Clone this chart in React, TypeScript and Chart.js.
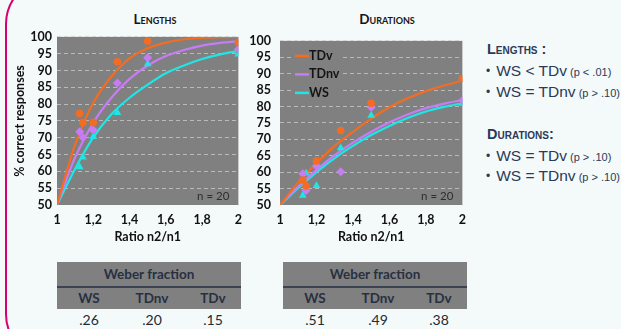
import React, { useEffect, useRef } from "react";
import { Chart, registerables } from "chart.js";
Chart.register(...registerables);

// ---------- data ----------
const ratios = [1.125, 1.143, 1.2, 1.333, 1.5, 2];
const fitX = [1, 1.1, 1.2, 1.3, 1.4, 1.5, 1.6, 1.7, 1.8, 1.9, 2];
const xTickLabels = ["1", "1,2", "1,4", "1,6", "1,8", "2"];
const seriesNames = ["TDv", "TDnv", "WS"];

const lengthsTDv = [77.2, 74.5, 74.5, 92.6, 98.7, 98.3];
const lengthsTDnv = [71.8, 70.1, 72.3, 86.3, 93.8, 96.3];
const lengthsWS = [61.3, 64.2, 70.3, 77.4, 91.9, 94.8];
const lengthsFitTDv = [50, 68, 80.4, 88.2, 93.6, 96.6, 98.3, 99.3, 99.7, 99.9, 100];
const lengthsFitTDnv = [50, 64.2, 74.5, 81.9, 87.5, 91.5, 94.3, 96.1, 97.4, 98.2, 98.7];
const lengthsFitWS = [50, 60.8, 70.1, 77, 81.9, 85.8, 89.2, 91.5, 93.4, 94.8, 95.8];

const durationsTDv = [57.6, 55.8, 63.4, 72.7, 81, 88.6];
const durationsTDnv = [59.5, 54.4, 61.9, 60.1, 79.8, 81.8];
const durationsWS = [52.9, 59.7, 55.9, 67.4, 77.3, 80.9];
const durationsFitTDv = [50, 56.9, 62.7, 68, 72.3, 76.3, 79.8, 82.5, 84.7, 86.4, 87.9];
const durationsFitTDnv = [50, 55.6, 60.7, 65.2, 69, 72.3, 75.2, 77.6, 79.5, 80.9, 82];
const durationsFitWS = [50, 55.2, 60, 64.3, 68, 71.3, 74.1, 76.5, 78.5, 79.9, 81];

const weberColumns = ["WS", "TDnv", "TDv"];
const weberLengths = [".26", ".20", ".15"];
const weberDurations = [".51", ".49", ".38"];

// ---------- styles ----------
const COLORS = { TDv: "#f36c21", TDnv: "#c67cf2", WS: "#1ee6e6" };
const MARKERS = { TDv: "circle", TDnv: "rectRot", WS: "triangle" };
const CHART_FONT = "Lato, 'Open Sans', sans-serif";
const TEXT_FONT = "'Liberation Sans', Arial, sans-serif";
const TICK_FONT = { family: CHART_FONT, size: 12.5, weight: "bold", lineHeight: 1.1 };

const toPts = (xs: number[], ys: number[]) => xs.map((x, i) => ({ x, y: ys[i] }));

const bgPlugin = {
  id: "plotBg",
  beforeDraw(chart: any) {
    const { ctx, chartArea: a } = chart;
    ctx.save();
    ctx.fillStyle = "#808080";
    ctx.fillRect(a.left, a.top, a.right - a.left, a.bottom - a.top);
    ctx.restore();
  },
};

const nPlugin = {
  id: "nLabel",
  afterDatasetsDraw(chart: any) {
    const { ctx, chartArea: a } = chart;
    ctx.save();
    ctx.fillStyle = "#2e2e2e";
    ctx.font = "11.5px " + CHART_FONT;
    ctx.textAlign = "right";
    ctx.textBaseline = "middle";
    ctx.fillText("n = 20", a.right - 9, a.bottom - 9);
    ctx.restore();
  },
};

const legendPlugin = {
  id: "inLegend",
  afterDraw(chart: any) {
    const { ctx, chartArea: a } = chart;
    ctx.save();
    ctx.fillStyle = "#808080";
    ctx.fillRect(a.left + 13, a.top + 5, 50, 58);
    seriesNames.forEach((name, i) => {
      const y = a.top + 15 + i * 18.5;
      ctx.strokeStyle = (COLORS as any)[name];
      ctx.lineWidth = 2.5;
      ctx.beginPath();
      ctx.moveTo(a.left + 15, y);
      ctx.lineTo(a.left + 29, y);
      ctx.stroke();
      ctx.fillStyle = "#141414";
      ctx.font = "bold 12.5px " + CHART_FONT;
      ctx.textAlign = "left";
      ctx.textBaseline = "middle";
      ctx.fillText(name, a.left + 29, y);
    });
    ctx.restore();
  },
};

function makeConfig(points: number[][], fits: number[][], yWidth: number, yTitle: string | null, yPad: number, legend: boolean) {
  const datasets: any[] = [];
  seriesNames.forEach((name, i) => {
    datasets.push({
      label: name + " points",
      data: toPts(ratios, points[i]),
      showLine: false,
      pointStyle: (MARKERS as any)[name],
      pointRadius: name === "TDv" ? 3.8 : 4.5,
      pointBackgroundColor: (COLORS as any)[name],
      pointBorderColor: (COLORS as any)[name],
      pointBorderWidth: 0,
      order: 1,
    });
  });
  seriesNames.forEach((name, i) => {
    datasets.push({
      label: name,
      data: toPts(fitX, fits[i]),
      showLine: true,
      borderColor: (COLORS as any)[name],
      borderWidth: 2.2,
      pointRadius: 0,
      tension: 0.25,
      order: 2,
    });
  });
  const plugins: any[] = [bgPlugin, nPlugin];
  if (legend) plugins.push(legendPlugin);
  return {
    type: "scatter",
    data: { datasets },
    plugins,
    options: {
      animation: false,
      responsive: false,
      layout: { padding: { top: 10, right: 7, left: 0, bottom: 0 } },
      plugins: { legend: { display: false }, tooltip: { enabled: false } },
      scales: {
        x: {
          type: "linear",
          min: 1,
          max: 2,
          afterFit: (s: any) => { s.height = 45; },
          ticks: {
            stepSize: 0.2,
            padding: 8,
            color: "#111",
            font: TICK_FONT,
            autoSkip: false,
            maxRotation: 0,
            callback: (_v: any, i: number) => xTickLabels[i],
          },
          grid: { display: false, drawTicks: false },
          border: { display: false },
          title: {
            display: true,
            text: "Ratio n2/n1",
            color: "#111",
            font: { family: CHART_FONT, size: 12.5, weight: "bold" },
            padding: { top: 0, bottom: 6 },
          },
        },
        y: {
          min: 50,
          max: 100,
          afterFit: (s: any) => { s.width = yWidth; },
          ticks: {
            stepSize: 5,
            padding: yPad,
            color: "#111",
            font: TICK_FONT,
            autoSkip: false,
          },
          grid: {
            drawTicks: false,
            color: (c: any) => (c.tick && c.tick.value === 50 ? "rgba(0,0,0,0)" : "rgba(205,205,205,0.75)"),
            lineWidth: 1,
          },
          border: { display: false, dash: [4, 3] },
          title: {
            display: !!yTitle,
            text: yTitle || "",
            color: "#111",
            font: { family: CHART_FONT, size: 12.5, weight: "bold" },
            padding: { top: 12, bottom: 0 },
          },
        },
      },
    },
  };
}

function ChartCanvas({ left, top, width, height, config }: any) {
  const ref = useRef<HTMLCanvasElement>(null);
  useEffect(() => {
    const chart = new Chart(ref.current as HTMLCanvasElement, config);
    return () => chart.destroy();
  }, []);
  return (
    <canvas
      ref={ref}
      width={width}
      height={height}
      style={{ position: "absolute", left, top, width, height }}
    />
  );
}

function WeberTable({ left, values }: { left: number; values: string[] }) {
  const centers = [32, 95, 156];
  return (
    <div style={{ position: "absolute", left, top: 262, width: 184, height: 66, fontFamily: CHART_FONT }}>
      <div
        style={{
          position: "absolute", left: 0, top: 0, width: 184, height: 24, background: "#808080",
          borderBottom: "2px solid #3b4252", color: "#283040", fontWeight: 700, fontSize: 13.5,
          lineHeight: "24px", textAlign: "center",
        }}
      >
        Weber fraction
      </div>
      <div style={{ position: "absolute", left: 0, top: 26, width: 184, height: 21, background: "#808080" }} />
      {weberColumns.map((c, i) => (
        <div key={c} style={{ position: "absolute", left: centers[i], top: 26, transform: "translateX(-50%)", lineHeight: "21px", fontWeight: 700, fontSize: 13.5, color: "#283040" }}>
          {c}
        </div>
      ))}
      {values.map((v, i) => (
        <div key={i} style={{ position: "absolute", left: centers[i], top: 49, transform: "translateX(-50%)", lineHeight: "18px", fontSize: 14, color: "#222a36" }}>
          {v}
        </div>
      ))}
    </div>
  );
}

const headStyle: any = {
  position: "absolute", left: 487, fontFamily: TEXT_FONT, fontWeight: 700, fontSize: 14.5,
  fontVariant: "small-caps", color: "#2b3958", whiteSpace: "nowrap", lineHeight: "16px",
};
const lineStyle: any = {
  position: "absolute", left: 486, fontFamily: TEXT_FONT, fontSize: 15.5, color: "#2b3958",
  whiteSpace: "nowrap", lineHeight: "18px",
};

function Bullet({ top, main, small }: { top: number; main: string; small: string }) {
  return (
    <div style={{ ...lineStyle, top: top - 9 }}>
      <span style={{ fontSize: 12, marginRight: 6, verticalAlign: "1px" }}>•</span>
      {main}
      <span style={{ fontSize: 11 }}> {small}</span>
    </div>
  );
}

export default function App() {
  const cfg1 = makeConfig(
    [lengthsTDv, lengthsTDnv, lengthsWS],
    [lengthsFitTDv, lengthsFitTDnv, lengthsFitWS],
    57, "% correct responses", 5, false
  );
  const cfg2 = makeConfig(
    [durationsTDv, durationsTDnv, durationsWS],
    [durationsFitTDv, durationsFitTDnv, durationsFitWS],
    30, null, 9, true
  );
  return (
    <div style={{ position: "fixed", left: 0, top: 0, width: 621, height: 329, background: "#f4fafa", overflow: "hidden" }}>
      <div
        style={{
          position: "absolute", left: 5, top: -22, width: 900, height: 382,
          border: "2px solid #d6006f", borderRadius: 46, boxSizing: "border-box",
        }}
      />
      <div style={{ position: "absolute", left: 155, top: 11, transform: "translateX(-50%)", fontFamily: CHART_FONT, fontWeight: 700, fontSize: 13.5, fontVariant: "small-caps", color: "#141414", lineHeight: "16px" }}>
        Lengths
      </div>
      <div style={{ position: "absolute", left: 387, top: 11, transform: "translateX(-50%)", fontFamily: CHART_FONT, fontWeight: 700, fontSize: 13.5, fontVariant: "small-caps", color: "#141414", lineHeight: "16px" }}>
        Durations
      </div>
      <ChartCanvas left={0} top={25} width={250} height={225} config={cfg1} />
      <ChartCanvas left={250} top={25} width={224} height={225} config={cfg2} />
      <WeberTable left={57} values={weberLengths} />
      <WeberTable left={283} values={weberDurations} />
      <div style={{ ...headStyle, top: 41 }}>Lengths :</div>
      <Bullet top={71} main="WS < TDv" small="(p < .01)" />
      <Bullet top={92} main="WS = TDnv" small="(p > .10)" />
      <div style={{ ...headStyle, top: 126 }}>Durations:</div>
      <Bullet top={156} main="WS = TDv" small="(p > .10)" />
      <Bullet top={176} main="WS = TDnv" small="(p > .10)" />
    </div>
  );
}
